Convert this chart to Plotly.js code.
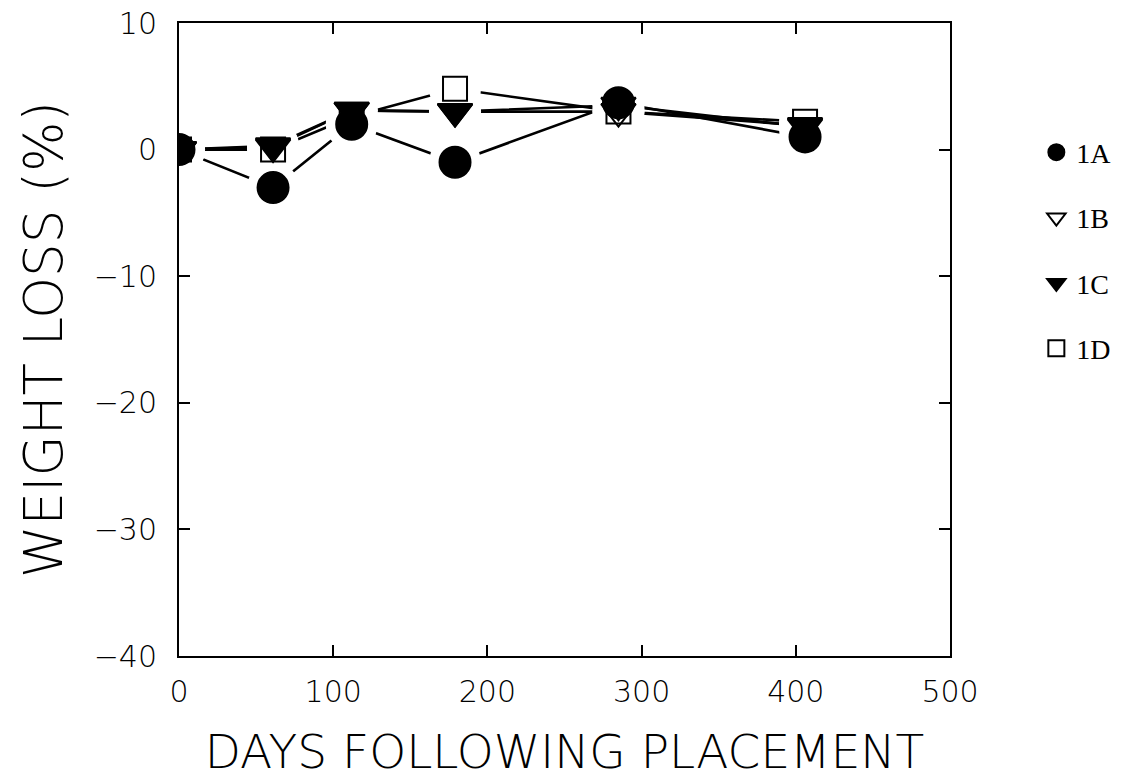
<!DOCTYPE html>
<html>
<head>
<meta charset="utf-8">
<script src="https://cdn.plot.ly/plotly-3.0.1.min.js"></script>
<style>html,body{margin:0;padding:0;background:#fff;}#chart{width:1132px;height:782px;}</style>
</head>
<body>
<div id="chart"></div>
<script>
// Data
const days = [0, 61, 112, 179, 285, 406];
const series1A = [0, -3.0, 2.0, -1.0, 3.7, 1.0];
const series1B = [0, 0.3, 3.1, 3.0, 3.0, 1.9];
const series1C = [0, 0.2, 3.1, 3.0, 3.5, 1.8];
const series1D = [0, 0.0, 2.6, 4.8, 3.0, 2.2];
const seriesNames = ['1A', '1B', '1C', '1D'];
const xTicks = [0, 100, 200, 300, 400, 500];
const yTicks = [10, 0, -10, -20, -30, -40];

const allSeries = [series1A, series1B, series1C, series1D];
const symbols = ['circle', 'triangle-down-open', 'triangle-down', 'square-open'];
const sizes = [31, 30, 30, 24];
const haloSize = 52;

const traces = [];
// connecting lines on the base subplot
allSeries.forEach((s, i) => traces.push({
  x: days, y: s, mode: 'lines', type: 'scatter', showlegend: false, hoverinfo: 'skip',
  xaxis: 'x', yaxis: 'y',
  line: {color: '#000', width: 2.6}
}));
// white halos on an overlaying subplot, so the lines stop short of each point
allSeries.forEach((s, i) => traces.push({
  x: days, y: s, mode: 'markers', type: 'scatter', showlegend: false, hoverinfo: 'skip',
  xaxis: 'x2', yaxis: 'y2',
  marker: {symbol: 'circle', size: haloSize, color: 'rgb(255,255,255)', opacity: 1, line: {width: 0}}
}));
// markers on a third overlaying subplot
allSeries.forEach((s, i) => traces.push({
  x: days, y: s, mode: 'markers', type: 'scatter', name: seriesNames[i], legendgroup: seriesNames[i],
  xaxis: 'x3', yaxis: 'y3',
  marker: {symbol: symbols[i], size: sizes[i], color: '#000', line: {color: '#000', width: 2}}
}));

const fam = 'DejaVu Sans, Liberation Sans, Arial, sans-serif';
const axisFont = {family: fam, size: 30, color: '#000', weight: 200};
const hiddenX = {range: [0, 500], overlaying: 'x', visible: false, showgrid: false, zeroline: false, fixedrange: true};
const hiddenY = {range: [-40, 10], overlaying: 'y', visible: false, showgrid: false, zeroline: false, fixedrange: true};
const layout = {
  width: 1132, height: 782,
  paper_bgcolor: '#fff', plot_bgcolor: '#fff',
  margin: {l: 179, r: 182, t: 23, b: 126},
  xaxis: {
    range: [0, 500], tickvals: xTicks, ticktext: xTicks.map(String),
    ticks: 'inside', ticklen: 11, tickwidth: 2, tickcolor: '#000',
    showline: true, linecolor: '#000', linewidth: 2, mirror: 'ticks',
    showgrid: false, zeroline: false, tickfont: axisFont, ticklabelstandoff: 8,
    title: {text: 'DAYS FOLLOWING PLACEMENT', font: {family: fam, size: 47, color: '#000', weight: 200}, standoff: 27}
  },
  yaxis: {
    range: [-40, 10], tickvals: yTicks,
    ticks: 'inside', ticklen: 11, tickwidth: 2, tickcolor: '#000',
    showline: true, linecolor: '#000', linewidth: 2, mirror: 'ticks',
    showgrid: false, zeroline: false, tickfont: axisFont, ticklabelstandoff: 14,
    title: {text: 'WEIGHT LOSS (%)', font: {family: fam, size: 53, color: '#000', weight: 200}, standoff: 14}
  },
  xaxis2: hiddenX, yaxis2: Object.assign({}, hiddenY),
  xaxis3: Object.assign({}, hiddenX), yaxis3: Object.assign({}, hiddenY),
  showlegend: true,
  legend: {
    x: 1.112, y: 0.835, xanchor: 'left', yanchor: 'top',
    font: {family: 'Liberation Serif, Times New Roman, serif', size: 28, color: '#000'},
    tracegroupgap: 26, itemsizing: 'trace', bgcolor: 'rgba(0,0,0,0)'
  }
};

Plotly.newPlot('chart', traces, layout, {displayModeBar: false, staticPlot: true});
</script>
</body>
</html>
